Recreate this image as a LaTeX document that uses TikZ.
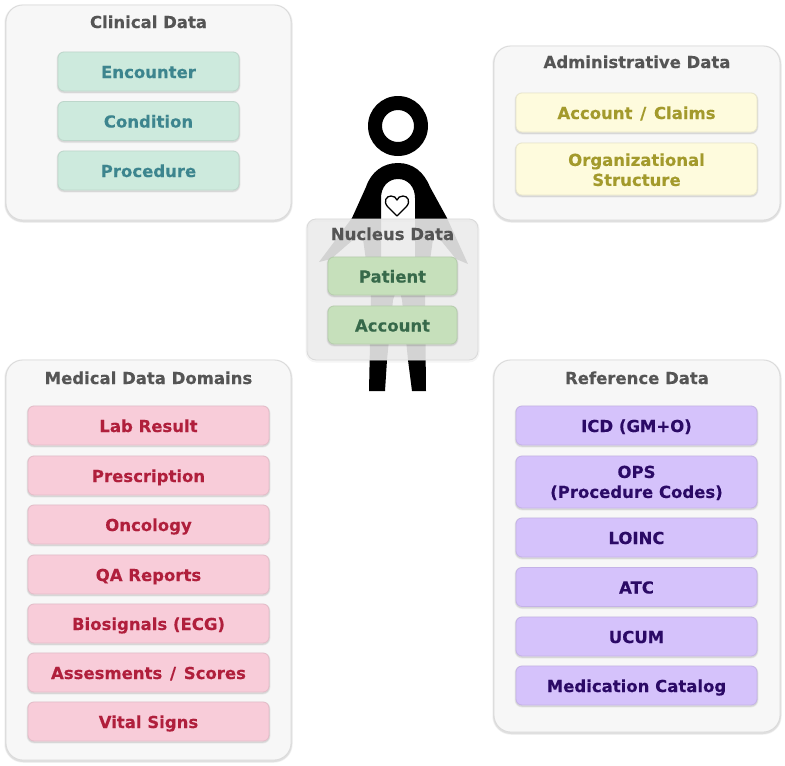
\documentclass[tikz,border=0pt]{standalone}
\usepackage{fontspec}
\setmainfont{DejaVu Sans}
\newfontfamily\labfont{DejaVu Sans Bold}[FakeBold=0.25]
\definecolor{titlecol}{HTML}{555555}
\definecolor{panelfill}{HTML}{F7F7F7}
\definecolor{panelline}{HTML}{DADADA}
\definecolor{clinfill}{HTML}{CDEADD}
\definecolor{clintext}{HTML}{3D858E}
\definecolor{admfill}{HTML}{FEFBDD}
\definecolor{admtext}{HTML}{A39A2C}
\definecolor{medfill}{HTML}{F8CCD9}
\definecolor{medtext}{HTML}{B01F3C}
\definecolor{reffill}{HTML}{D5C2FB}
\definecolor{reftext}{HTML}{2B0A66}
\definecolor{nucfill}{HTML}{C6E0BB}
\definecolor{nuctext}{HTML}{37694A}
\newcommand{\slashgap}{\hspace{2pt}/\hspace{2pt}}
\newcommand{\firstline}{\rule{0pt}{14pt}}
\tikzset{
  softshadow/.style={preaction={draw=black,draw opacity=.05,line width=#1+1.5pt,transform canvas={yshift=-1pt}},
    preaction={draw=black,draw opacity=.08,line width=#1,transform canvas={yshift=-1pt}}},
  softpanel/.style={shape=rectangle,rounded corners=17pt,fill=panelfill,draw=panelline,line width=.8pt,inner sep=0pt,outer sep=0pt,softshadow=2pt},
  nucpanel/.style={shape=rectangle,rounded corners=9pt,fill=black!8,fill opacity=.9,draw=panelline,line width=.8pt,inner sep=0pt,outer sep=0pt,
    preaction={draw=black,draw opacity=.04,line width=3pt,transform canvas={yshift=-1pt}}},
  itembase/.style={shape=rectangle,rounded corners=6pt,line width=.8pt,inner sep=0pt,outer sep=0pt,minimum width=241pt,
    align=center,font=\fontsize{16.5}{20}\labfont,softshadow=1.5pt},
  oneline/.style={text height=13pt,text depth=0pt},
  clin/.style={itembase,oneline,fill=clinfill,draw=clinfill!92!black,text=clintext,minimum width=181pt,minimum height=39pt},
  adm/.style={itembase,fill=admfill,draw=admfill!92!black,text=admtext},
  med/.style={itembase,oneline,fill=medfill,draw=medfill!92!black,text=medtext,minimum height=39pt},
  ref/.style={itembase,fill=reffill,draw=reffill!92!black,text=reftext},
  nuc/.style={itembase,oneline,fill=nucfill,draw=nucfill!92!black,text=nuctext,minimum width=129pt,minimum height=38pt},
  paneltitle/.style={text=titlecol,inner sep=0pt,oneline,font=\fontsize{16.5}{20}\labfont},
}
\begin{document}
\begin{tikzpicture}[x=1pt,y=-1pt]
\useasboundingbox (0,0) rectangle (785,766);
% outer panels
\node[softpanel,minimum width=285pt,minimum height=215pt] (clinical) at (148.5,112.5) {};
\node[softpanel,minimum width=286pt,minimum height=174pt] (admin) at (637,133) {};
\node[softpanel,minimum width=285pt,minimum height=400pt] (medical) at (148.5,560) {};
\node[softpanel,minimum width=286pt,minimum height=372pt] (reference) at (637,546) {};
% figure
\fill[black,even odd rule] (398,126) circle (30) (398,126) circle (16);
\fill[black,even odd rule]
  (352,218) -- (366,187) .. controls (371,172) and (383,163) .. (398,163)
  .. controls (413,163) and (424,172) .. (430,187) -- (447,218) -- (468,264) -- (456,259) -- (434,232)
  -- (425,296) -- (426,391) -- (412,391) -- (408,360) -- (402,300) -- (398,285) -- (393,300)
  -- (387,360) -- (385,391) -- (369,391) -- (371,296) -- (362,232) -- (331,259) -- (319,262) -- cycle
  (381,270) -- (381,198) .. controls (381,187) and (388,179) .. (398,179)
  .. controls (408,179) and (415,187) .. (415,198) -- (415,270) -- cycle;
\draw[black,fill=white,line width=1.3pt,line join=round]
  (397,216) -- (387.5,206.5) .. controls (383,201) and (386.5,196) .. (391,196)
  .. controls (394,196) and (396,197.5) .. (397,200)
  .. controls (398,197.5) and (400,196) .. (403,196)
  .. controls (407.5,196) and (411,201) .. (406.5,206.5) -- cycle;
% nucleus panel
\node[nucpanel,minimum width=171pt,minimum height=141pt] (nucleus) at (392.5,289.5) {};
\node[paneltitle] (tnuc) at (392.5,233.5) {Nucleus Data};
\node[nuc] (patient) at (392.5,276) {Patient};
\node[nuc] (account) at (392.5,325) {Account};
% titles
\node[paneltitle] (tclin) at (148.5,21.5) {Clinical Data};
\node[paneltitle] (tadm) at (637,61.5) {Administrative Data};
\node[paneltitle] (tmed) at (148.5,377.5) {Medical Data Domains};
\node[paneltitle] (tref) at (637,377.5) {Reference Data};
% clinical
\node[clin] (enc) at (148.5,71.5) {Encounter};
\node[clin] (cond) at (148.5,121) {Condition};
\node[clin] (proc) at (148.5,170.5) {Procedure};
% admin
\node[adm,oneline,minimum height=39pt] (claims) at (636.5,112.5) {Account \slashgap{} Claims};
\node[adm,minimum height=52pt] (org) at (636.5,169) {\firstline Organizational\\Structure};
% medical
\node[med] (lab) at (148.5,425.5) {Lab Result};
\node[med] (presc) at (148.5,475.5) {Prescription};
\node[med] (onc) at (148.5,524.5) {Oncology};
\node[med] (qa) at (148.5,574.5) {QA Reports};
\node[med] (bio) at (148.5,623.5) {Biosignals (ECG)};
\node[med] (assess) at (148.5,672.5) {Assesments \slashgap{} Scores};
\node[med] (vital) at (148.5,721.5) {Vital Signs};
% reference
\node[ref,oneline,minimum height=39pt] (icd) at (636.5,425.5) {ICD (GM+O)};
\node[ref,minimum height=52pt] (ops) at (636.5,482) {\firstline OPS\\(Procedure Codes)};
\node[ref,oneline,minimum height=39pt] (loinc) at (636.5,537.5) {LOINC};
\node[ref,oneline,minimum height=39pt] (atc) at (636.5,587) {ATC};
\node[ref,oneline,minimum height=39pt] (ucum) at (636.5,636.5) {UCUM};
\node[ref,oneline,minimum height=39pt] (medcat) at (636.5,685.5) {Medication Catalog};
\end{tikzpicture}
\end{document}
